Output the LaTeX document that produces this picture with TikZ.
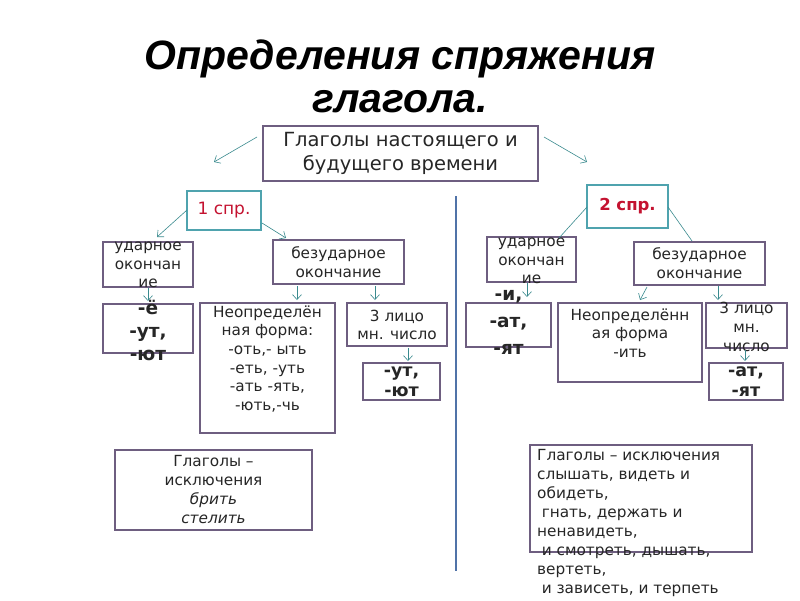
\documentclass[tikz,border=0pt]{standalone}
\usepackage{fontspec}
\setmainfont{DejaVu Sans}
\newfontfamily\titlefont{Liberation Sans}
\usetikzlibrary{arrows.meta}
\definecolor{boxc}{HTML}{6E5E80}
\definecolor{tealc}{HTML}{4FA3AE}
\definecolor{arrc}{HTML}{3A8A8E}
\definecolor{vline}{HTML}{5073A8}
\definecolor{redt}{HTML}{C41230}
\definecolor{txt}{HTML}{262626}
\tikzset{
  box/.style={draw=boxc, line width=1.6pt, inner sep=0pt},
  tbox/.style={draw=tealc, line width=1.6pt, inner sep=0pt},
  lbl/.style={text=txt, align=center, inner sep=0pt},
  small/.style={font=\fontsize{15.3}{18.7}\selectfont},
  bold/.style={font=\fontsize{18.5}{23}\selectfont\bfseries},
  conn/.style={draw=arrc, line width=0.6pt, -{Straight Barb[length=5pt,width=9pt]}},
  plain/.style={draw=arrc, line width=0.6pt},
}
\begin{document}
\begin{tikzpicture}[x=1pt,y=-1pt]
\useasboundingbox (0,0) rectangle (800,600);
\fill[white] (0,0) rectangle (800,600);
% title
\node[lbl, font=\titlefont\fontsize{41}{43}\selectfont\bfseries\itshape, text=black] (title) at (400,76) {Определения спряжения\\глагола.};
% vertical line
\draw[vline, line width=2.5pt] (456,196) -- (456,571);
% top box
\node[box, minimum width=275pt, minimum height=55pt] (top) at (400.5,153.5) {};
\node[lbl, font=\fontsize{19.5}{24}\selectfont] at (top) {Глаголы настоящего и\\будущего времени};
\coordinate (tl) at (214,162);
\coordinate (tr) at (587,162);
\draw[conn] (257,137) -- (tl);
\draw[conn] (544,137) -- (tr);
% left side
\node[tbox, minimum width=74pt, minimum height=39pt] (s1) at (224,210.5) {};
\node[lbl, text=redt, font=\fontsize{17}{20}\selectfont] at (s1) {1 спр.};
\node[box, minimum width=90pt, minimum height=45pt] (ud1) at (148,264.5) {};
\node[lbl, small] at (148,265) {ударное\\окончан\\ие};
\node[box, minimum width=131pt, minimum height=44pt] (bz1) at (338.5,262) {};
\node[lbl, small] at (bz1) {безударное\\окончание};
\draw[conn] (187,210) -- (157,237);
\draw[conn] (262,223) -- (286,238);
\node[box, minimum width=90pt, minimum height=49pt] (e1) at (148,328.5) {};
\node[lbl, bold] at (148,330) {-ё\\-ут,\\-ют};
\node[box, minimum width=135pt, minimum height=130pt] (nf1) at (267.5,368) {};
\node[lbl, small] at (267.5,359) {Неопределён\\ная форма:\\-оть,- ыть\\-еть, -уть\\-ать -ять,\\-ють,-чь};
\node[box, minimum width=100pt, minimum height=43pt] (l3a) at (397,324.5) {};
\node[lbl, small] at (397,325) {3 лицо\\мн. число};
\node[box, minimum width=77pt, minimum height=37pt] (ut1) at (401.5,381.5) {};
\node[lbl, font=\fontsize{17.5}{20}\selectfont\bfseries, text=txt] at (ut1) {-ут,\\-ют};
\draw[conn] (148,288) -- (148,301);
\draw[conn] (297,286) -- (297,300);
\draw[conn] (375,286) -- (375,300);
\draw[conn] (408,348) -- (408,361);
\node[box, minimum width=197pt, minimum height=80pt] (ex1) at (213.5,490) {};
\node[lbl, small] at (213.5,489.5) {Глаголы –\\исключения\\\textit{брить}\\\textit{стелить}};
% right side
\node[tbox, minimum width=81pt, minimum height=43pt] (s2) at (627.5,206.5) {};
\node[lbl, text=redt, font=\fontsize{16.5}{20}\selectfont\bfseries] at (s2) {2 спр.};
\node[box, minimum width=89pt, minimum height=45pt] (ud2) at (531.5,259.5) {};
\node[lbl, small] at (531.5,261) {ударное\\окончан\\ие};
\node[box, minimum width=131pt, minimum height=43pt] (bz2) at (699.5,263.5) {};
\node[lbl, small] at (bz2) {безударное\\окончание};
\draw[plain] (587,207) -- (559,238);
\draw[plain] (668,207) -- (692,241);
\node[box, minimum width=85pt, minimum height=44pt] (i2) at (508.5,325) {};
\node[lbl, font=\fontsize{18.5}{27}\selectfont\bfseries, text=txt] at (508.5,322) {-и,\\-ат,\\-ят};
\node[box, minimum width=144pt, minimum height=79pt] (nf2) at (630,342.5) {};
\node[lbl, small] at (630,333) {Неопределённ\\ая форма\\-ить};
\node[box, minimum width=81pt, minimum height=45pt] (l3b) at (746.5,325.5) {};
\node[lbl, small] at (746.5,327) {3 лицо\\мн.\\число};
\node[box, minimum width=74pt, minimum height=37pt] (at2) at (746,381.5) {};
\node[lbl, font=\fontsize{17.5}{20}\selectfont\bfseries, text=txt] at (at2) {-ат,\\-ят};
\draw[conn] (527,283) -- (527,297);
\draw[conn] (647,287) -- (640,300);
\draw[conn] (718,286) -- (718,300);
\draw[conn] (745,350) -- (745,361);
\node[box, minimum width=222pt, minimum height=107pt] (ex2) at (641,498.5) {};
\node[lbl, font=\fontsize{15.3}{19}\selectfont, align=left, anchor=north west] at (537,449) {Глаголы – исключения\\слышать, видеть и\\обидеть,\\\hspace*{0.3em}гнать, держать и\\ненавидеть,\\\hspace*{0.3em}и смотреть, дышать,\\вертеть,\\\hspace*{0.3em}и зависеть, и терпеть};
\end{tikzpicture}
\end{document}
